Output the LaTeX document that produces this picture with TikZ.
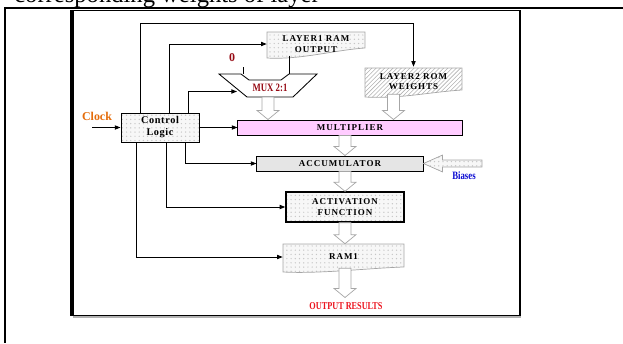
\documentclass[tikz,border=0pt]{standalone}
\usepackage{fontspec}
\setmainfont{Liberation Serif}
\newfontfamily\spacedfont[LetterSpace=11]{Liberation Serif}
\newfontfamily\ctrlfont[LetterSpace=6]{Liberation Serif}
\newfontfamily\narrowfont[FakeStretch=0.78]{Liberation Serif}
\definecolor{clockOrange}{RGB}{228,108,10}
\definecolor{muxRed}{RGB}{150,10,20}
\definecolor{outRed}{RGB}{235,20,30}
\definecolor{biasBlue}{RGB}{10,10,210}
\definecolor{multPink}{RGB}{255,204,255}
\usetikzlibrary{patterns, calc, arrows.meta}

\tikzset{
  conn/.style={-{Triangle[length=4pt,width=3pt]}, line width=0.7pt},
  fat/.style={draw=gray!70, fill=white, line width=0.5pt},
  dotfill/.style={preaction={fill=gray!6}, pattern=dots, pattern color=gray!45},
  blocktxt/.style={font=\spacedfont\bfseries\fontsize{6.4}{7.5}\selectfont, align=center, inner sep=0pt},
}

% hollow block arrow pointing down
\newcommand{\fatarrow}[2]{%
  \draw[fat] let \p1=#1, \p2=#2 in
    (\x1-4.2pt,\y1) -- (\x1+4.2pt,\y1) -- (\x1+4.2pt,\y2+6.4pt) -- (\x1+7.8pt,\y2+6.4pt)
    -- (\x1,\y2) -- (\x1-7.8pt,\y2+6.4pt) -- (\x1-4.2pt,\y2+6.4pt) -- cycle;}

\begin{document}
\begin{tikzpicture}[x=0.025cm, y=-0.025cm]
        \useasboundingbox (0,0) rectangle (623,343);

        % Page text, cut by the top of the page
        \begin{scope}
          \clip (0,0) rectangle (623,7.5);
          \node[anchor=base west, inner sep=0pt, font=\fontsize{17.5}{19}\selectfont] at (14,2) {corresponding weights of layer};
        \end{scope}

        % Page lines and frame
        \draw[line width=1.2pt] (4,8) -- (623,8);
        \draw[line width=0.9pt] (5,8) -- (5,343);
        \draw[line width=0.6pt] (72,10) rectangle (520,315);
        \draw[line width=2.2pt] (72,10) -- (72,316);
        \draw[line width=2pt] (520,10) -- (520,317);
        \draw[line width=2pt, gray!60] (73,317) -- (521,317);

        % Memories (document shapes)
        \draw[gray!70, line width=0.5pt, dotfill] (267,32) -- (365,32) -- (365,48)
          .. controls (335,50) and (300,60) .. (267,58) -- cycle;
        \node[blocktxt, minimum width=2.45cm, minimum height=0.65cm] (l1) at (316,44) {LAYER1 RAM\\OUTPUT};

        \draw[gray!70, line width=0.5pt, pattern=north east lines, pattern color=gray!60] (365,68) -- (462,68) -- (462,90)
          .. controls (430,92) and (400,99) .. (365,97) -- cycle;
        \node[blocktxt, minimum width=2.425cm, minimum height=0.725cm] (l2) at (413.5,81.5) {LAYER2 ROM\\WEIGHTS};

        \draw[gray!70, line width=0.5pt, dotfill] (283,244) -- (404,244) -- (404,267)
          .. controls (370,268) and (320,274) .. (283,272) -- cycle;
        \node[blocktxt, minimum width=3.025cm, minimum height=0.65cm] (ram1) at (343.5,257) {RAM1};

        % Multiplexer
        \draw[line width=0.6pt, fill=white] (219,74) -- (241,74) -- (249,80) -- (281,80) -- (289,74)
          -- (317,74) -- (293,97) -- (247,97) -- cycle;
        \node[font=\narrowfont\bfseries\fontsize{8}{9}\selectfont, text=muxRed] (mux) at (270,88) {MUX 2:1};
        \coordinate (muxin) at (237,91.5);
        \coordinate (muxa) at (243,74);
        \coordinate (muxb) at (289,74);
        \coordinate (l1tap) at (289,55.5);
        \coordinate (muxout) at (268,97);
        \node[font=\bfseries\fontsize{8.5}{9}\selectfont, text=muxRed] (zero) at (232,58) {0};

        % Blocks
        \node[blocktxt, font=\ctrlfont\bfseries\fontsize{7.3}{8.5}\selectfont, draw, line width=0.7pt, dotfill,
          minimum width=1.95cm, minimum height=0.725cm] (ctrl) at (160,127.5) {Control\\Logic};
        \node[blocktxt, draw, line width=0.7pt, fill=multPink, minimum width=5.6cm, minimum height=0.375cm] (mult) at (350,127.5) {MULTIPLIER};
        \node[blocktxt, draw, line width=0.7pt, fill=gray!20, minimum width=4.15cm, minimum height=0.375cm] (acc) at (340,163.5) {ACCUMULATOR};
        \node[blocktxt, draw, line width=1pt, dotfill, minimum width=2.95cm, minimum height=0.75cm] (act) at (345,207) {ACTIVATION\\FUNCTION};

        % Labels
        \node[font=\bfseries\fontsize{8.5}{10}\selectfont, text=clockOrange] (clock) at (97,116) {Clock};
        \coordinate (clkin) at (92,127.5);
        \node[font=\narrowfont\bfseries\fontsize{8}{9}\selectfont, text=biasBlue] (bias) at (464,176) {Biases};
        \coordinate (biasin) at (482,163.5);
        \node[font=\narrowfont\bfseries\fontsize{7.5}{9}\selectfont, text=outRed] (out) at (346,306) {OUTPUT RESULTS};

        % Control lines
        \draw[conn] (clkin) -- (ctrl.west);
        \draw[conn] ([xshift=0.5cm]ctrl.north west) -- ++(0,-89) -| (l2.north);
        \draw[conn] ([xshift=1.225cm]ctrl.north west) |- (l1.west);
        \draw[conn] ([xshift=1.7cm]ctrl.north west) |- (muxin);
        \draw[conn] (ctrl.east) -- (mult.west);
        \draw[conn] ([xshift=1.625cm]ctrl.south west) |- (acc.west);
        \draw[conn] ([xshift=1.15cm]ctrl.south west) |- (act.west);
        \draw[conn] ([xshift=0.4cm]ctrl.south west) |- (ram1.west);
        \draw[line width=0.7pt] (zero.south -| muxa) -- (muxa);
        \draw[line width=0.7pt] (l1tap) -- (muxb);

        % Data path
        \fatarrow{(muxout)}{(muxout |- mult.north)}
        \fatarrow{([xshift=-0.5cm, yshift=0.05cm]l2.south)}{([xshift=-0.5cm]l2.south |- mult.north)}
        \fatarrow{(act.north |- mult.south)}{(act.north |- acc.north)}
        \fatarrow{(act.north |- acc.south)}{(act.north)}
        \fatarrow{(act.south)}{(act.south |- ram1.north)}
        \fatarrow{([yshift=0.05cm]act.south |- ram1.south)}{(act.south |- out.north)}
        \draw[draw=gray!70, line width=0.5pt, dotfill] let \p1=(biasin), \p2=(acc.east) in
          (\x1,\y1+2.5pt) -- (\x2+13.5pt,\y1+2.5pt) -- (\x2+13.5pt,\y1+6pt) -- (\x2,\y1)
          -- (\x2+13.5pt,\y1-6pt) -- (\x2+13.5pt,\y1-2.5pt) -- (\x1,\y1-2.5pt) -- cycle;
    \end{tikzpicture}
\end{document}
